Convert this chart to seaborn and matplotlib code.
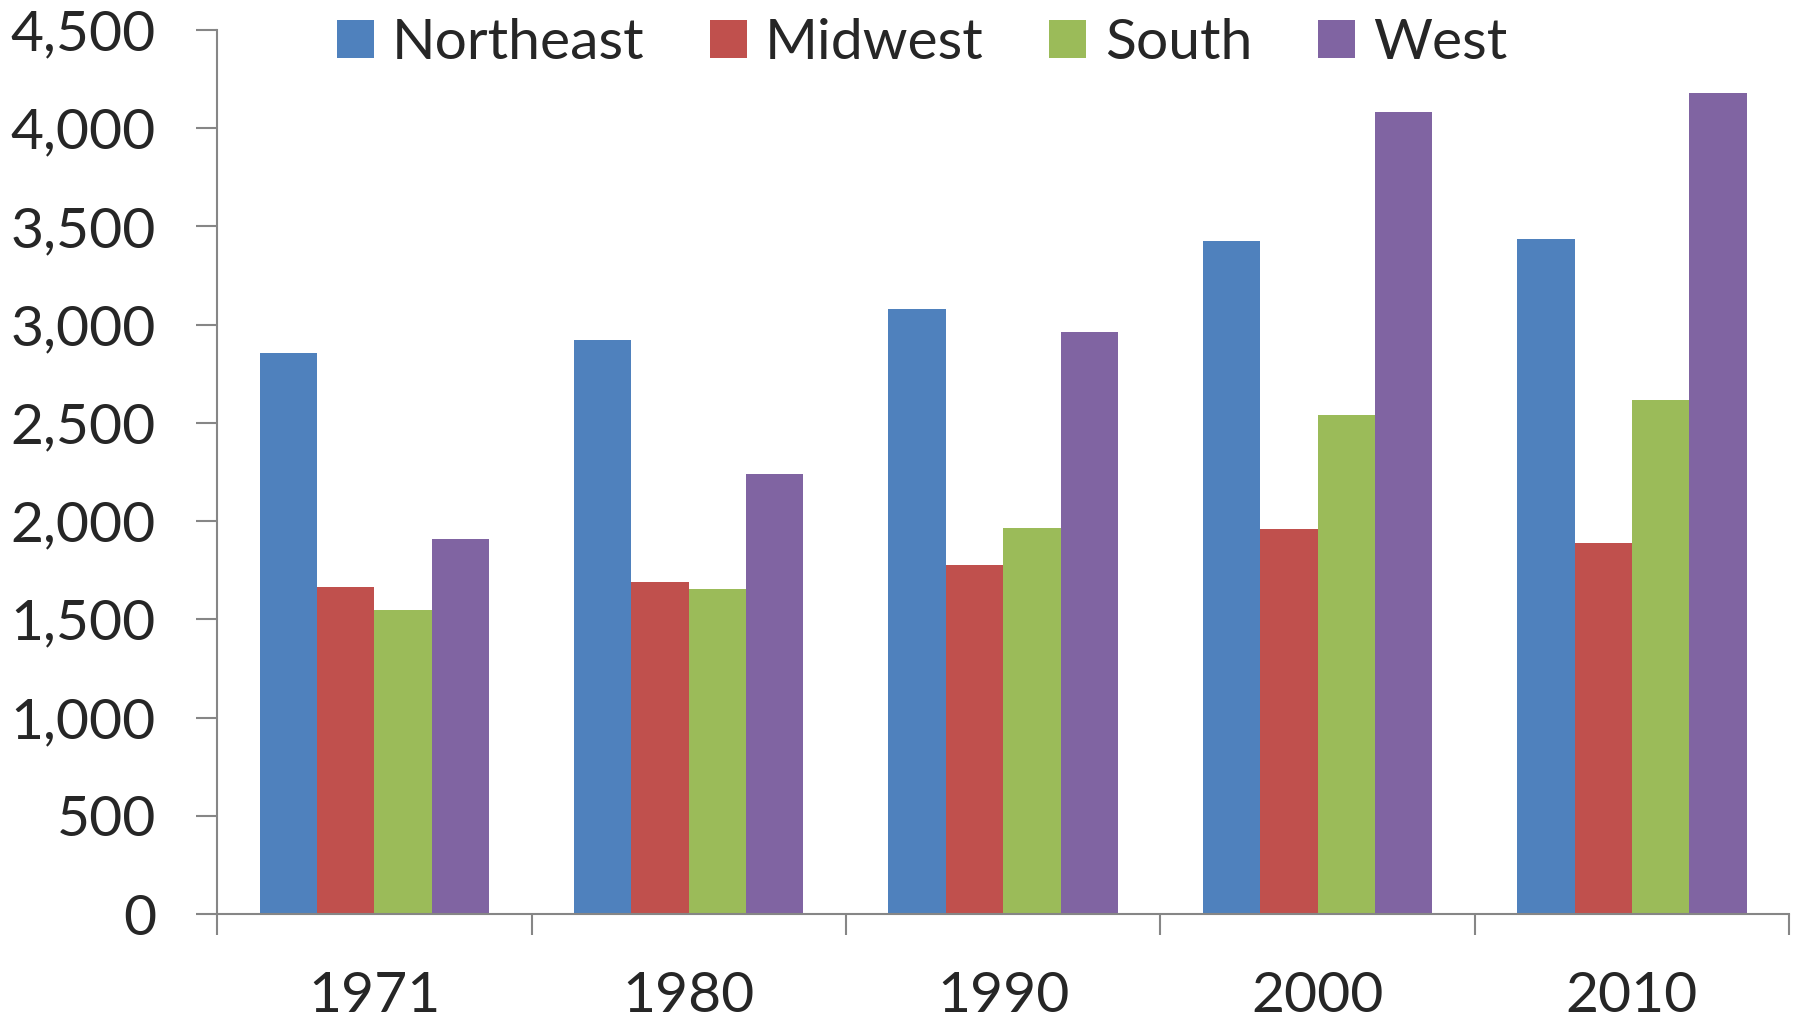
import matplotlib
matplotlib.use("Agg")
import matplotlib.pyplot as plt
import seaborn as sns
import pandas as pd
from matplotlib.ticker import FixedLocator, FuncFormatter

years = ["1971", "1980", "1990", "2000", "2010"]
regions = ["Northeast", "Midwest", "South", "West"]
northeast = [2858, 2922, 3080, 3425, 3436]
midwest = [1666, 1689, 1777, 1958, 1888]
south = [1549, 1654, 1964, 2542, 2618]
west = [1911, 2238, 2963, 4085, 4178]
colors = ["#4F81BD", "#C0504D", "#9BBB59", "#8064A2"]

rows = []
for reg, vals in zip(regions, [northeast, midwest, south, west]):
    for y, v in zip(years, vals):
        rows.append({"year": y, "region": reg, "value": v})
df = pd.DataFrame(rows)

sns.set_style("white")
plt.rcParams["font.family"] = ["Lato", "DejaVu Sans"]

fig = plt.figure(figsize=(18, 10.23), dpi=100)
ax = fig.add_axes([0.1206, 0.1065, 0.994 - 0.1206, 0.9707 - 0.1065])

sns.barplot(data=df, x="year", y="value", hue="region", order=years,
            hue_order=regions, palette=colors, width=0.73, gap=0,
            saturation=1, errorbar=None, ax=ax, edgecolor="none")

handles, labels = ax.get_legend_handles_labels()
if ax.get_legend() is not None:
    ax.get_legend().remove()

ax.set_ylim(0, 4500)
ax.set_xlim(-0.5, 4.5)
ax.set_yticks(range(0, 4501, 500))
ax.yaxis.set_major_formatter(FuncFormatter(lambda v, p: f"{int(v):,}"))
ax.set_xlabel("")
ax.set_ylabel("")

ax.xaxis.set_major_locator(FixedLocator([-0.5, 0.5, 1.5, 2.5, 3.5, 4.5]))
ax.xaxis.set_major_formatter(FuncFormatter(lambda v, p: ""))
ax.xaxis.set_minor_locator(FixedLocator(list(range(len(years)))))
ax.set_xticklabels(years, minor=True)

for s in ["top", "right"]:
    ax.spines[s].set_visible(False)
for s in ["left", "bottom"]:
    ax.spines[s].set_color("#868686")
    ax.spines[s].set_linewidth(1.5)

ax.tick_params(axis="y", which="major", direction="out", length=15, width=1.5,
               color="#868686", labelsize=41, pad=29, left=True)
ax.tick_params(axis="x", which="major", direction="out", length=15, width=1.5,
               color="#868686", bottom=True)
ax.tick_params(axis="x", which="minor", length=0, labelsize=41, pad=41, bottom=True)

fig.legend(handles, labels, loc="center left", bbox_to_anchor=(0.187, 0.957),
           ncol=4, frameon=False, fontsize=41, handlelength=0.65,
           handleheight=0.65, handletextpad=0.32, columnspacing=1.15,
           borderpad=0, borderaxespad=0)

fig.savefig("out.png", dpi=100, facecolor="white")
